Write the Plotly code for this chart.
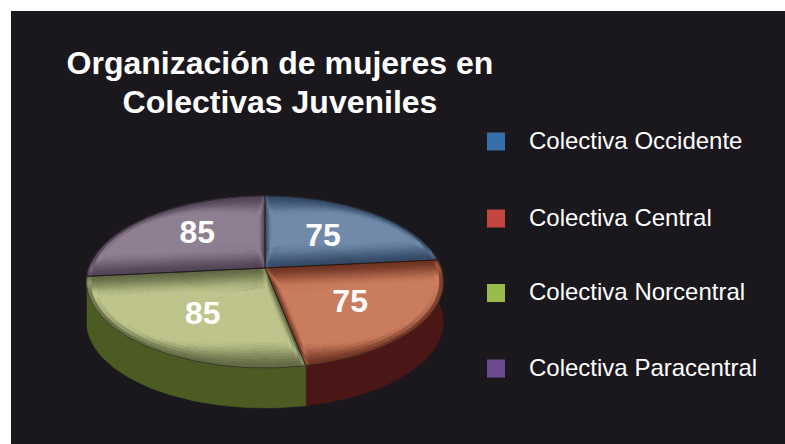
import math
import plotly.graph_objects as go

# ---- data ----
categories = ["Colectiva Occidente", "Colectiva Central", "Colectiva Norcentral", "Colectiva Paracentral"]
values = [75, 75, 85, 85]
title_lines = ["Organización de mujeres en", "Colectivas Juveniles"]

# ---- style ----
BG = "#1A181D"
centre_colors = [(113, 138, 170), (202, 124, 94), (190, 196, 140), (143, 127, 146)]
edge_colors = [(52, 74, 104), (112, 52, 34), (98, 106, 68), (84, 68, 88)]
side_colors = [None, "#4A1616", "#4C5B22", None]  # back walls are hidden
legend_colors = ["#366FAA", "#C54541", "#9ABB4C", "#6B4B8E"]
legend_y = [142.5, 219.5, 294, 369.5]
label_nudge = [(-3, 2), (3, 7), (0, 8), (0, -4)]

# perspective projection of the unit disc to the page
CX, R, HUB_Y, A, C, DEPTH = 265.0, 176.0, 268.0, -40.09, 0.1628, 40.0


def project(u, v, drop=0.0):
    w = 1 + C * v
    return CX + R * u / w, (A * v + HUB_Y) / w + drop


def polar(r, angle_deg, drop=0.0):
    a = math.radians(angle_deg)
    return project(r * math.sin(a), r * math.cos(a), drop)


def edge_dist(p, a, b):
    """distance to a radial edge, with a narrower band on near-vertical edges"""
    dx, dy = b[0] - a[0], b[1] - a[1]
    t = max(0.0, min(1.0, ((p[0] - a[0]) * dx + (p[1] - a[1]) * dy) / (dx * dx + dy * dy)))
    d = math.hypot(p[0] - a[0] - t * dx, p[1] - a[1] - t * dy)
    steep = abs(dy) / math.hypot(dx, dy)
    return d * (1 + 2.4 * steep)


total = sum(values)
bounds = [0.0]
for val in values:
    bounds.append(bounds[-1] + 360.0 * val / total)

fig = go.Figure()

# side walls
for i in range(4):
    if side_colors[i] is None:
        continue
    s, e = bounds[i], bounds[i + 1]
    n = max(2, int((e - s) / 1.5))
    angs = [s + (e - s) * k / n for k in range(n + 1)]
    top = [polar(1, a) for a in angs]
    bot = [polar(1, a, DEPTH) for a in reversed(angs)]
    pts = top + bot + top[:1]
    fig.add_trace(go.Scatter(x=[p[0] for p in pts], y=[p[1] for p in pts], mode="lines",
                             fill="toself", fillcolor=side_colors[i],
                             line=dict(color=side_colors[i], width=0.5), hoverinfo="skip"))

# shaded top faces: polar cells grouped in colour buckets
BUCKETS = 20
NR = 40
for i in range(4):
    s, e = bounds[i], bounds[i + 1]
    na = int(e - s)
    hub = polar(0, s)
    e1, e2 = polar(1, s), polar(1, e)
    groups = {}
    for ir in range(NR):
        r0, r1 = ir / NR, (ir + 1) / NR
        for ia in range(na):
            a0 = s + (e - s) * ia / na
            a1 = s + (e - s) * (ia + 1) / na
            rm, am = (r0 + r1) / 2, (a0 + a1) / 2
            p = polar(rm, am)
            d1, d2 = edge_dist(p, hub, e1), edge_dist(p, hub, e2)
            u = rm * math.sin(math.radians(am))
            d3 = (1 - rm) * math.hypot(p[0] - CX, p[1] - HUB_Y) / max(rm, 0.02) * (1 + 2.5 * u * u)
            ds = sorted([d1, d2, d3])
            t = min(1.0, ds[0] / 25.0)
            t = t * t * (3 - 2 * t)
            mitre = math.exp(-(((ds[1] - ds[0]) / 6.0) ** 2)) * (1 - min(1.0, ds[0] / 32.0))
            level = min(1.0, t + 0.4 * mitre)
            key = round(level * BUCKETS)
            poly = [polar(r0, a0), polar(r1, a0), polar(r1, a1), polar(r0, a1), polar(r0, a0)]
            groups.setdefault(key, []).append(poly)
    for key in sorted(groups):
        lv = key / BUCKETS
        col = tuple(int(edge_colors[i][c] + (centre_colors[i][c] - edge_colors[i][c]) * lv) for c in range(3))
        xs, ys = [], []
        for poly in groups[key]:
            xs += [q[0] for q in poly] + [None]
            ys += [q[1] for q in poly] + [None]
        css = f"rgb{col}"
        fig.add_trace(go.Scatter(x=xs, y=ys, mode="lines", fill="toself", fillcolor=css,
                                 line=dict(color=css, width=0.8), hoverinfo="skip"))

# wedge outlines
for i in range(4):
    s, e = bounds[i], bounds[i + 1]
    n = int((e - s) / 1.5)
    pts = [polar(0, s)] + [polar(1, s + (e - s) * k / n) for k in range(n + 1)] + [polar(0, s)]
    fig.add_trace(go.Scatter(x=[p[0] for p in pts], y=[p[1] for p in pts], mode="lines",
                             line=dict(color="rgba(20,18,16,0.7)", width=0.8), hoverinfo="skip"))

# value labels
for i, val in enumerate(values):
    p = polar(0.55, (bounds[i] + bounds[i + 1]) / 2)
    fig.add_trace(go.Scatter(x=[p[0] + label_nudge[i][0]], y=[p[1] + label_nudge[i][1]],
                             mode="text", text=[str(val)],
                             textfont=dict(family="Liberation Sans", size=32, color="white", weight="bold"),
                             textposition="middle center", hoverinfo="skip"))

# legend
fig.add_trace(go.Scatter(x=[496] * 4, y=[y - 1 for y in legend_y], mode="markers",
                         marker=dict(symbol="square", size=18, color=legend_colors, line=dict(width=0)),
                         hoverinfo="skip"))
fig.add_trace(go.Scatter(x=[529] * 4, y=legend_y, mode="text", text=categories,
                         textposition="middle right",
                         textfont=dict(family="Liberation Sans", size=24, color="white"),
                         hoverinfo="skip"))

# title
fig.add_trace(go.Scatter(x=[280, 280], y=[66, 105], mode="text", text=title_lines,
                         textposition="middle center",
                         textfont=dict(family="Liberation Sans", size=32, color="white", weight="bold"),
                         hoverinfo="skip"))

fig.update_layout(
    width=785, height=444, margin=dict(l=0, r=0, t=0, b=0), showlegend=False,
    paper_bgcolor="white", plot_bgcolor="white",
    xaxis=dict(range=[0, 785], visible=False, fixedrange=True),
    yaxis=dict(range=[444, 0], visible=False, fixedrange=True),
    shapes=[dict(type="rect", layer="below", x0=11, x1=785, y0=11, y1=444,
                 fillcolor=BG, line=dict(width=0))],
)
fig.write_html("out.html", config={"displayModeBar": False},
               post_script="document.body.style.margin='0';")
